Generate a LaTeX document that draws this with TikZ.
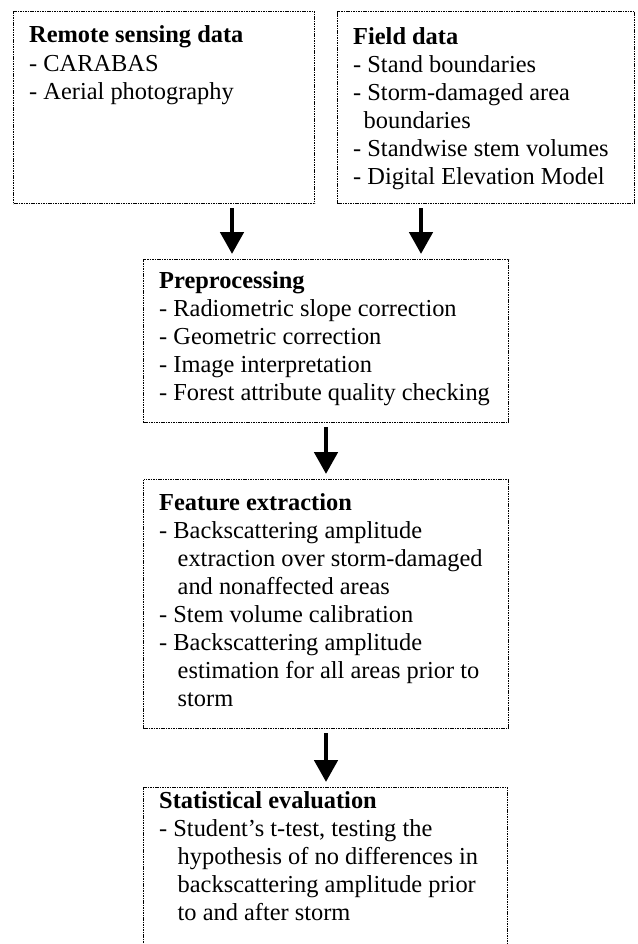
\documentclass[tikz,border=0pt]{standalone}
\usepackage{fontspec}
\setmainfont{Liberation Serif}
\usetikzlibrary{arrows.meta}
\tikzset{
  box/.style={draw=black, line width=1.4pt, dash pattern=on 1.1pt off 0.6pt, rectangle, inner sep=0pt},
  txt/.style={anchor=base west, inner sep=0pt, font=\fontsize{24.4}{28}\selectfont},
  flow/.style={line width=4.8pt, -{Triangle[width=23pt,length=22pt]}, shorten <=4pt, shorten >=5pt}
}
\begin{document}
\begin{tikzpicture}[x=1pt,y=-1pt]
\clip (0,0) rectangle (637,944);
\useasboundingbox (0,0) rectangle (637,944);
% boxes
\node[box, minimum width=301pt, minimum height=192pt, anchor=north west] (rs) at (13,11) {};
\node[box, minimum width=297pt, minimum height=192pt, anchor=north west] (fd) at (337,11) {};
\node[box, minimum width=365pt, minimum height=163pt, anchor=north west] (pre) at (143,259) {};
\node[box, minimum width=365pt, minimum height=249pt, anchor=north west] (fe) at (143,479) {};
\node[box, minimum width=364pt, minimum height=180pt, anchor=north west] (se) at (143,787) {};
% texts
\node[txt] (rst) at (29,43) {\vtop{\baselineskip=28.5pt
  \hbox{\bfseries Remote sensing data}
  \hbox{- CARABAS}
  \hbox{- Aerial photography}}};
\node[txt] (fdt) at (353,45) {\vtop{\baselineskip=28pt
  \hbox{\bfseries Field data}
  \hbox{- Stand boundaries}
  \hbox{- Storm-damaged area}
  \hbox{\hspace*{10.5pt}boundaries}
  \hbox{- Standwise stem volumes}
  \hbox{- Digital Elevation Model}}};
\node[txt] (pret) at (159,288) {\vtop{\baselineskip=28pt
  \hbox{\bfseries Preprocessing}
  \hbox{- Radiometric slope correction}
  \hbox{- Geometric correction}
  \hbox{- Image interpretation}
  \hbox{- Forest attribute quality checking}}};
\node[txt] (fet) at (159,510) {\vtop{\baselineskip=28pt
  \hbox{\bfseries Feature extraction}
  \hbox{- Backscattering amplitude}
  \hbox{\hspace*{18.5pt}extraction over storm-damaged}
  \hbox{\hspace*{18.5pt}and nonaffected areas}
  \hbox{- Stem volume calibration}
  \hbox{- Backscattering amplitude}
  \hbox{\hspace*{18.5pt}estimation for all areas prior to}
  \hbox{\hspace*{18.5pt}storm}}};
\node[txt] (set) at (159,808) {\vtop{\baselineskip=28pt
  \hbox{\bfseries Statistical evaluation}
  \hbox{- Student’s t-test, testing the}
  \hbox{\hspace*{18.5pt}hypothesis of no differences in}
  \hbox{\hspace*{18.5pt}backscattering amplitude prior}
  \hbox{\hspace*{18.5pt}to and after storm}}};
% arrow columns
\coordinate (cl) at (232,0);
\coordinate (cr) at (421,0);
\coordinate (cm) at (326,0);
\draw[flow] (rs.south -| cl) -- (pre.north -| cl);
\draw[flow] (fd.south -| cr) -- (pre.north -| cr);
\draw[flow] (pre.south -| cm) -- (fe.north -| cm);
\draw[flow] (fe.south -| cm) -- (se.north -| cm);
\end{tikzpicture}
\end{document}
